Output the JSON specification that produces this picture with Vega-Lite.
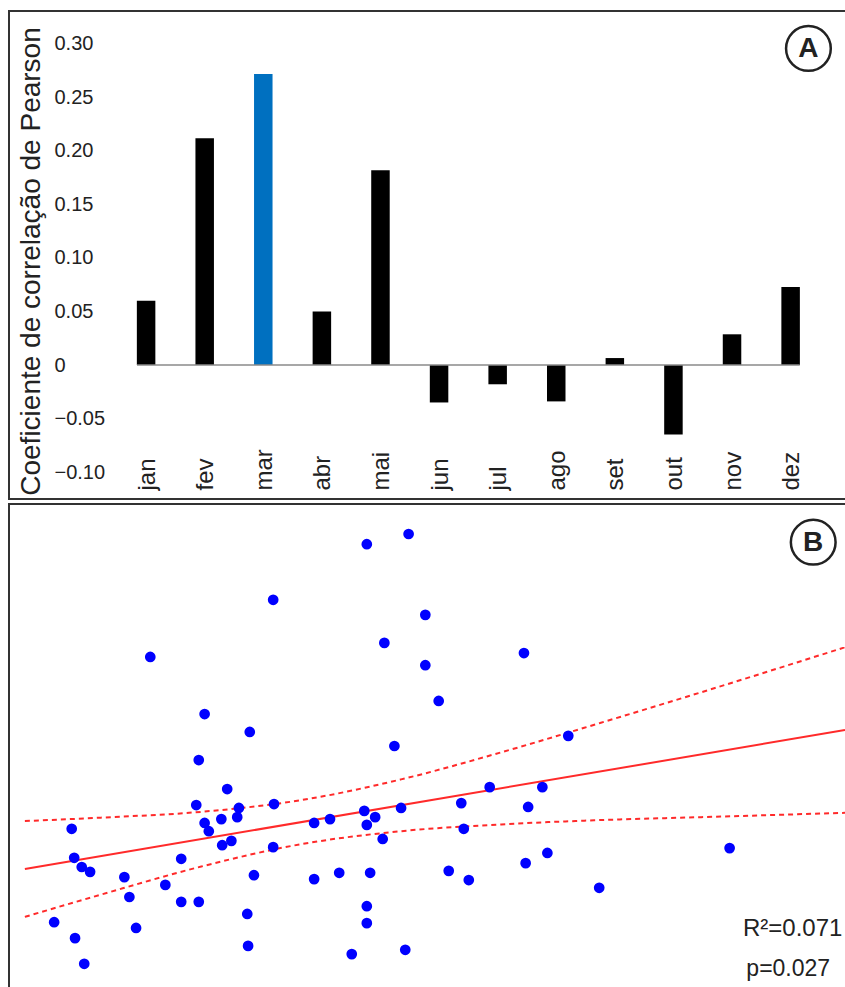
{
  "$schema": "https://vega.github.io/schema/vega-lite/v6.json",
  "padding": {"left": 8, "top": 10, "right": 0, "bottom": 0},
  "background": "white",
  "config": {
    "font": "Liberation Sans",
    "view": {"stroke": "#333333", "strokeWidth": 2},
    "concat": {"spacing": 3}
  },
  "datasets": {
    "meses": [
      {"n": 1, "mes": "jan", "r": 0.060},
      {"n": 2, "mes": "fev", "r": 0.212},
      {"n": 3, "mes": "mar", "r": 0.272},
      {"n": 4, "mes": "abr", "r": 0.050},
      {"n": 5, "mes": "mai", "r": 0.182},
      {"n": 6, "mes": "jun", "r": -0.035},
      {"n": 7, "mes": "jul", "r": -0.018},
      {"n": 8, "mes": "ago", "r": -0.034},
      {"n": 9, "mes": "set", "r": 0.0065},
      {"n": 10, "mes": "out", "r": -0.065},
      {"n": 11, "mes": "nov", "r": 0.0287},
      {"n": 12, "mes": "dez", "r": 0.073}
    ],
    "pontos": [
      {"x": 47.8, "y": 93.8}, {"x": 42.8, "y": 91.7}, {"x": 31.6, "y": 80.2}, {"x": 49.8, "y": 77.1},
      {"x": 44.9, "y": 71.3}, {"x": 16.9, "y": 68.4}, {"x": 61.6, "y": 69.2}, {"x": 49.8, "y": 66.7},
      {"x": 51.4, "y": 59.3}, {"x": 23.4, "y": 56.6}, {"x": 28.8, "y": 52.9}, {"x": 66.9, "y": 52.1},
      {"x": 46.1, "y": 50.0}, {"x": 22.7, "y": 47.1}, {"x": 26.1, "y": 41.1}, {"x": 57.5, "y": 41.5},
      {"x": 63.8, "y": 41.5}, {"x": 22.4, "y": 37.8}, {"x": 31.7, "y": 38.0}, {"x": 27.5, "y": 37.2},
      {"x": 54.1, "y": 38.2}, {"x": 62.1, "y": 37.4}, {"x": 46.9, "y": 37.2}, {"x": 42.5, "y": 36.6},
      {"x": 27.3, "y": 35.3}, {"x": 25.4, "y": 34.9}, {"x": 43.8, "y": 35.3}, {"x": 38.4, "y": 34.9},
      {"x": 23.4, "y": 34.1}, {"x": 36.5, "y": 34.1}, {"x": 42.8, "y": 33.7}, {"x": 23.9, "y": 32.4},
      {"x": 7.5, "y": 32.9}, {"x": 54.4, "y": 32.9}, {"x": 26.6, "y": 30.4}, {"x": 25.5, "y": 29.5},
      {"x": 44.7, "y": 30.8}, {"x": 31.6, "y": 29.1}, {"x": 86.2, "y": 28.9}, {"x": 64.4, "y": 27.9},
      {"x": 7.8, "y": 26.9}, {"x": 20.6, "y": 26.7}, {"x": 61.8, "y": 25.8}, {"x": 8.7, "y": 25.0},
      {"x": 9.7, "y": 24.0}, {"x": 52.6, "y": 24.2}, {"x": 29.3, "y": 23.3}, {"x": 39.5, "y": 23.8},
      {"x": 43.2, "y": 23.8}, {"x": 13.8, "y": 22.9}, {"x": 36.5, "y": 22.5}, {"x": 55.0, "y": 22.3},
      {"x": 18.7, "y": 21.3}, {"x": 70.6, "y": 20.7}, {"x": 14.4, "y": 18.8}, {"x": 20.6, "y": 17.8},
      {"x": 22.7, "y": 17.8}, {"x": 42.8, "y": 16.9}, {"x": 28.5, "y": 15.3}, {"x": 42.8, "y": 13.4},
      {"x": 5.4, "y": 13.6}, {"x": 15.2, "y": 12.4}, {"x": 7.9, "y": 10.3}, {"x": 28.6, "y": 8.7},
      {"x": 47.4, "y": 7.9}, {"x": 41.0, "y": 7.0}, {"x": 9.0, "y": 5.0}
    ],
    "ajuste": [
      {"x": 1.9, "y": 24.6},
      {"x": 100.0, "y": 53.3}
    ],
    "ic": [
      {"curva": "sup", "x": 1.9, "y": 34.5}, {"curva": "sup", "x": 11.0, "y": 35.2},
      {"curva": "sup", "x": 23.0, "y": 36.4}, {"curva": "sup", "x": 34.9, "y": 38.8},
      {"curva": "sup", "x": 46.9, "y": 43.1}, {"curva": "sup", "x": 58.9, "y": 48.7},
      {"curva": "sup", "x": 70.8, "y": 54.8}, {"curva": "sup", "x": 82.8, "y": 61.1},
      {"curva": "sup", "x": 100.0, "y": 70.4},
      {"curva": "inf", "x": 1.9, "y": 14.7}, {"curva": "inf", "x": 11.0, "y": 19.3},
      {"curva": "inf", "x": 23.0, "y": 25.1}, {"curva": "inf", "x": 34.9, "y": 29.7},
      {"curva": "inf", "x": 46.9, "y": 32.4}, {"curva": "inf", "x": 58.9, "y": 33.8},
      {"curva": "inf", "x": 70.8, "y": 34.7}, {"curva": "inf", "x": 82.8, "y": 35.3},
      {"curva": "inf", "x": 100.0, "y": 36.2}
    ],
    "um": [{}]
  },
  "vconcat": [
    {
      "width": 839,
      "height": 488,
      "encoding": {
        "x": {
          "type": "quantitative",
          "scale": {"domain": [-1.2546, 12.894], "nice": false, "zero": false}
        },
        "y": {
          "type": "quantitative",
          "scale": {"domain": [-0.1252, 0.3308], "nice": false, "zero": false}
        }
      },
      "layer": [
        {
          "data": {"name": "meses"},
          "mark": {"type": "bar", "size": 18.5},
          "encoding": {
            "x": {
              "field": "n", "type": "quantitative",
              "axis": {
                "title": null, "values": [1, 2, 3, 4, 5, 6, 7, 8, 9, 10, 11, 12],
                "labelExpr": "['jan','fev','mar','abr','mai','jun','jul','ago','set','out','nov','dez'][datum.value - 1]",
                "labelAngle": -90, "labelAlign": "left", "labelBaseline": "middle",
                "labelFlush": false, "labelOverlap": false, "labelBound": false,
                "labelPadding": -9, "ticks": false, "tickSize": 0, "domain": false, "grid": false,
                "labelFontSize": 24, "labelColor": "#222222", "labelOffset": 1
              }
            },
            "y": {
              "field": "r", "type": "quantitative",
              "axis": {
                "title": "Coeficiente de correlação de Pearson",
                "values": [-0.1, -0.05, 0, 0.05, 0.1, 0.15, 0.2, 0.25, 0.3],
                "labelExpr": "datum.value === 0 ? '0' : format(datum.value, '.2f')",
                "labelFlush": false, "labelOverlap": false,
                "grid": false, "ticks": false, "tickSize": 0, "domain": false,
                "offset": -45, "labelPadding": 0, "labelAlign": "left",
                "labelFontSize": 20, "labelColor": "#222222",
                "titleFontSize": 28, "titleFontWeight": "normal", "titleColor": "#222222",
                "titleAngle": -90, "titleX": -15, "titleY": 250, "titleAlign": "center",
                "titleBaseline": "alphabetic"
              }
            },
            "color": {
              "condition": {"test": "datum.mes === 'mar'", "value": "#0070C0"},
              "value": "#000000"
            }
          }
        },
        {
          "data": {"name": "um"},
          "mark": {"type": "rule", "color": "#8a8a8a", "strokeWidth": 1.5},
          "encoding": {
            "x": {"datum": 0.844},
            "x2": {"datum": 12.156},
            "y": {"datum": 0}
          }
        },
        {
          "data": {"name": "um"},
          "mark": {"type": "point", "shape": "circle", "filled": false, "stroke": "#222222", "strokeWidth": 2.5, "size": 2000, "opacity": 1},
          "encoding": {
            "x": {"datum": 12.304},
            "y": {"datum": 0.2958}
          }
        },
        {
          "data": {"name": "um"},
          "mark": {"type": "text", "text": "A", "fontSize": 28, "fontWeight": "bold", "color": "#222222", "align": "center", "baseline": "middle", "dy": 1},
          "encoding": {
            "x": {"datum": 12.304},
            "y": {"datum": 0.2958}
          }
        }
      ]
    },
    {
      "width": 839,
      "height": 490,
      "encoding": {
        "x": {"type": "quantitative", "scale": {"domain": [0, 100.36], "nice": false, "zero": false}, "axis": null},
        "y": {"type": "quantitative", "scale": {"domain": [-1.24, 100], "nice": false, "zero": false}, "axis": null}
      },
      "layer": [
        {
          "data": {"name": "ic"},
          "mark": {"type": "line", "color": "#ff2a2a", "strokeWidth": 2, "strokeDash": [5, 4], "interpolate": "monotone"},
          "encoding": {
            "x": {"field": "x", "type": "quantitative"},
            "y": {"field": "y", "type": "quantitative"},
            "detail": {"field": "curva"}
          }
        },
        {
          "data": {"name": "ajuste"},
          "mark": {"type": "line", "color": "#ff2a2a", "strokeWidth": 2},
          "encoding": {
            "x": {"field": "x", "type": "quantitative"},
            "y": {"field": "y", "type": "quantitative"}
          }
        },
        {
          "data": {"name": "pontos"},
          "mark": {"type": "point", "shape": "circle", "filled": true, "color": "#0000ff", "size": 115, "opacity": 1},
          "encoding": {
            "x": {"field": "x", "type": "quantitative"},
            "y": {"field": "y", "type": "quantitative"}
          }
        },
        {
          "data": {"name": "um"},
          "mark": {"type": "point", "shape": "circle", "filled": false, "stroke": "#222222", "strokeWidth": 2.5, "size": 2000, "opacity": 1},
          "encoding": {
            "x": {"datum": 96.2},
            "y": {"datum": 92.1}
          }
        },
        {
          "data": {"name": "um"},
          "mark": {"type": "text", "text": "B", "fontSize": 28, "fontWeight": "bold", "color": "#222222", "align": "center", "baseline": "middle", "dy": 1},
          "encoding": {
            "x": {"datum": 96.2},
            "y": {"datum": 92.1}
          }
        },
        {
          "data": {"name": "um"},
          "mark": {"type": "text", "text": "R²=0.071", "fontSize": 24, "color": "#222222", "align": "left", "baseline": "alphabetic"},
          "encoding": {
            "x": {"datum": 87.8},
            "y": {"datum": 10.7}
          }
        },
        {
          "data": {"name": "um"},
          "mark": {"type": "text", "text": "p=0.027", "fontSize": 23, "color": "#222222", "align": "left", "baseline": "alphabetic"},
          "encoding": {
            "x": {"datum": 88.2},
            "y": {"datum": 2.5}
          }
        }
      ]
    }
  ]
}
